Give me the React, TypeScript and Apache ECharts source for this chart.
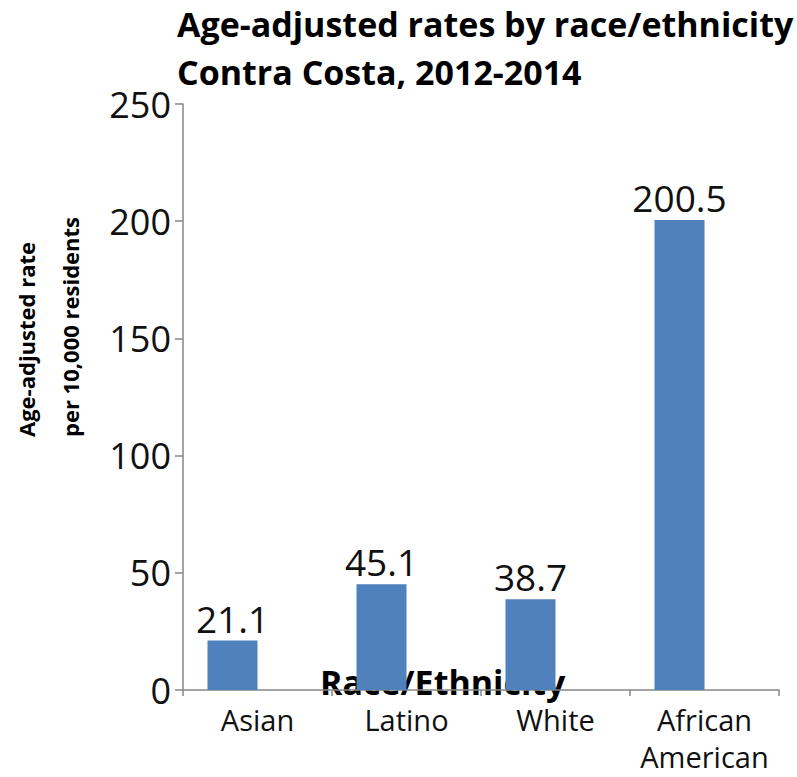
import React, { useEffect, useRef } from "react";
import * as echarts from "echarts";

const categories = ["Asian", "Latino", "White", "African\nAmerican"];
const rates = [21.1, 45.1, 38.7, 200.5];
const emptySeries = ["-", "-", "-", "-"];
const titleLines = ["Age-adjusted rates by race/ethnicity", "Contra Costa, 2012-2014"];
const yNameLines = ["Age-adjusted rate", "per 10,000 residents"];
const xName = "Race/Ethnicity";

const FONT = "'Open Sans', sans-serif";

export default function App() {
  const ref = useRef<HTMLDivElement>(null);
  useEffect(() => {
    if (!ref.current) return;
    const chart = echarts.init(ref.current, null, { renderer: "svg" });
    chart.setOption({
      animation: false,
      backgroundColor: "#ffffff",
      title: {
        text: titleLines.join("\n"),
        left: 172,
        top: -5,
        textStyle: {
          fontFamily: FONT,
          fontWeight: "bold",
          fontSize: 34,
          lineHeight: 48,
          color: "#000000",
        },
      },
      grid: {
        left: 183,
        right: 18,
        top: 104,
        bottom: 87,
        containLabel: false,
        outerBoundsMode: "none",
      },
      xAxis: {
        type: "category",
        data: categories,
        z: 3,
        axisLine: { show: true, lineStyle: { color: "#868686", width: 1.5 } },
        axisTick: { show: true, length: 6, lineStyle: { color: "#868686", width: 1.5 } },
        axisLabel: {
          fontFamily: FONT,
          fontSize: 29,
          color: "#111111",
          margin: 11,
          lineHeight: 37,
          interval: 0,
        },
      },
      yAxis: {
        type: "value",
        min: 0,
        max: 250,
        interval: 50,
        splitLine: { show: false },
        axisLine: { show: true, lineStyle: { color: "#868686", width: 1.5 } },
        axisTick: { show: true, length: 8, lineStyle: { color: "#868686", width: 1.5 } },
        axisLabel: {
          fontFamily: FONT,
          fontSize: 36,
          color: "#111111",
          margin: 12,
        },
      },
      graphic: [
        {
          type: "text",
          z: 0,
          left: 320,
          top: 665,
          style: {
            text: xName,
            fontFamily: FONT,
            fontWeight: "bold",
            fontSize: 34,
            fill: "#000000",
          },
        },
        {
          type: "text",
          x: 26,
          y: 437,
          rotation: Math.PI / 2,
          style: {
            text: yNameLines[0],
            fontFamily: FONT,
            fontWeight: "bold",
            fontSize: 22,
            fill: "#000000",
            align: "left",
            verticalAlign: "middle",
          },
        },
        {
          type: "text",
          x: 70,
          y: 437,
          rotation: Math.PI / 2,
          style: {
            text: yNameLines[1],
            fontFamily: FONT,
            fontWeight: "bold",
            fontSize: 22,
            fill: "#000000",
            align: "left",
            verticalAlign: "middle",
          },
        },
      ],
      series: [
        {
          type: "bar",
          data: rates,
          barWidth: 50,
          barGap: "0%",
          z: 5,
          itemStyle: { color: "#4F81BD" },
          label: {
            show: true,
            position: "top",
            distance: 4,
            fontFamily: FONT,
            fontSize: 37,
            color: "#111111",
          },
        },
        {
          type: "bar",
          data: emptySeries,
          barWidth: 50,
          barGap: "0%",
          itemStyle: { color: "#4F81BD" },
        },
      ],
    });
    return () => chart.dispose();
  }, []);
  return <div ref={ref} style={{ width: 797, height: 777, position: "absolute", left: 0, top: 0 }} />;
}
